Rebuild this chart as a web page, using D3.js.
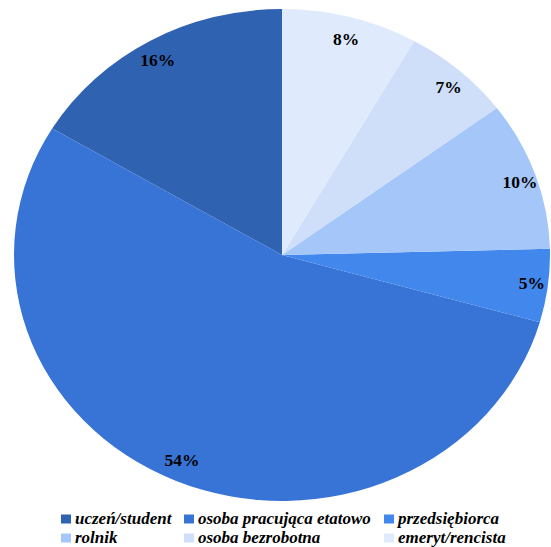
<!DOCTYPE html>
<html><head><meta charset="utf-8">
<script src="https://cdn.jsdelivr.net/npm/d3@7"></script>
<style>html,body{margin:0;padding:0;background:#fff;}
text{font-family:"Liberation Serif","Times New Roman",serif;font-weight:bold;}
</style>
</head><body>
<svg id="c" width="551" height="547"></svg>
<script>
const categories = ["uczeń/student","osoba pracująca etatowo","przedsiębiorca","rolnik","osoba bezrobotna","emeryt/rencista"];
const values = [16.4, 54.2, 4.8, 9.8, 6.6, 8.2];
const labels = ["16%","54%","5%","10%","7%","8%"];
const colors = ["#3062B2","#3874D6","#4287EC","#A4C6F8","#CFDFFA","#DFEBFD"];

const svg = d3.select("#c");
const cx = 282, cy = 255, rx = 268, ry = 246;
const data = categories.map((c,i)=>({c, v: values[i], l: labels[i], col: colors[i]}));
const pie = d3.pie().sort(null).value(d=>d.v).startAngle(0).endAngle(-2*Math.PI);
const arcs = pie(data);
const arc = d3.arc().innerRadius(0).outerRadius(ry);
const g = svg.append("g").attr("transform",`translate(${cx},${cy}) scale(${rx/ry},1)`);
g.selectAll("path").data(arcs).join("path").attr("d",arc).attr("fill",d=>d.data.col);

const lfx = 0.94, lfy = 0.91;
svg.selectAll("text.lab").data(arcs).join("text").attr("class","lab")
  .attr("x", d=>{const a=(d.startAngle+d.endAngle)/2; return cx + rx*lfx*Math.sin(a);})
  .attr("y", d=>{const a=(d.startAngle+d.endAngle)/2; return cy - ry*lfy*Math.cos(a) + 6;})
  .attr("text-anchor","middle")
  .style("font-size","17.5px")
  .attr("fill","#000").text(d=>d.data.l);

const colX = [61, 184, 384];
const rowY = [514.5, 533.5];
const lg = svg.append("g");
data.forEach((d,i)=>{
  const x = colX[i%3], y = rowY[Math.floor(i/3)];
  lg.append("rect").attr("x",x).attr("y",y).attr("width",10).attr("height",9).attr("fill",d.col);
  lg.append("text").attr("x",x+14).attr("y",y+9)
    .style("font-style","italic").style("font-size","17px")
    .attr("fill","#000").text(d.c);
});
</script>
</body></html>
